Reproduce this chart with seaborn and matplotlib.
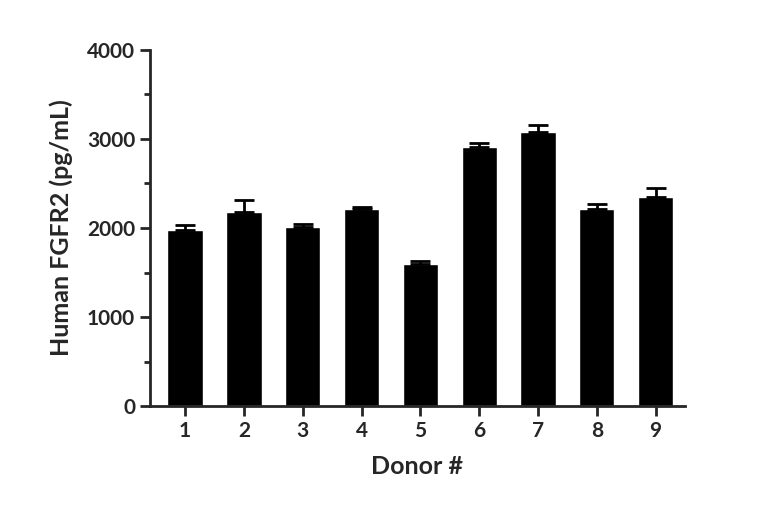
import matplotlib
matplotlib.use("Agg")
import matplotlib.pyplot as plt
import seaborn as sns
import pandas as pd
from matplotlib.ticker import MultipleLocator

donors = ["1", "2", "3", "4", "5", "6", "7", "8", "9"]
means = [1980, 2180, 2010, 2210, 1600, 2910, 3080, 2210, 2350]
upper = [2030, 2310, 2050, 2240, 1630, 2950, 3160, 2270, 2450]

sns.set_style("ticks")
plt.rcParams['font.family'] = ['Lato', 'DejaVu Sans']
plt.rcParams['font.weight'] = 'bold'

df = pd.DataFrame({"Donor": donors, "Value": means})
fig = plt.figure(figsize=(7.68, 5.2), dpi=100)
ax = fig.add_axes([0.195, 0.219, 0.697, 0.685])
sns.barplot(data=df, x="Donor", y="Value", color="black", width=0.6,
            errorbar=None, ax=ax, saturation=1)
errs = [u - m for u, m in zip(upper, means)]
ax.errorbar(range(len(donors)), means, yerr=[[0]*len(errs), errs], fmt="none",
            ecolor="black", elinewidth=2, capsize=7, capthick=2)
ax.set_xlim(-0.6, 8.5)
ax.set_ylim(0, 4000)
ax.yaxis.set_major_locator(MultipleLocator(1000))
ax.yaxis.set_minor_locator(MultipleLocator(500))
for s in ["top", "right"]:
    ax.spines[s].set_visible(False)
for s in ["left", "bottom"]:
    ax.spines[s].set_linewidth(2)
ax.tick_params(axis="both", which="major", width=2, length=7, labelsize=15)
ax.tick_params(axis="y", which="minor", width=2, length=4)
for lab in ax.get_xticklabels() + ax.get_yticklabels():
    lab.set_fontweight("bold")
ax.set_xlabel("Donor #", fontsize=18, fontweight="bold", labelpad=10)
ax.set_ylabel("Human FGFR2 (pg/mL)", fontsize=18, fontweight="bold", labelpad=10)
fig.savefig("out.png", dpi=100)
